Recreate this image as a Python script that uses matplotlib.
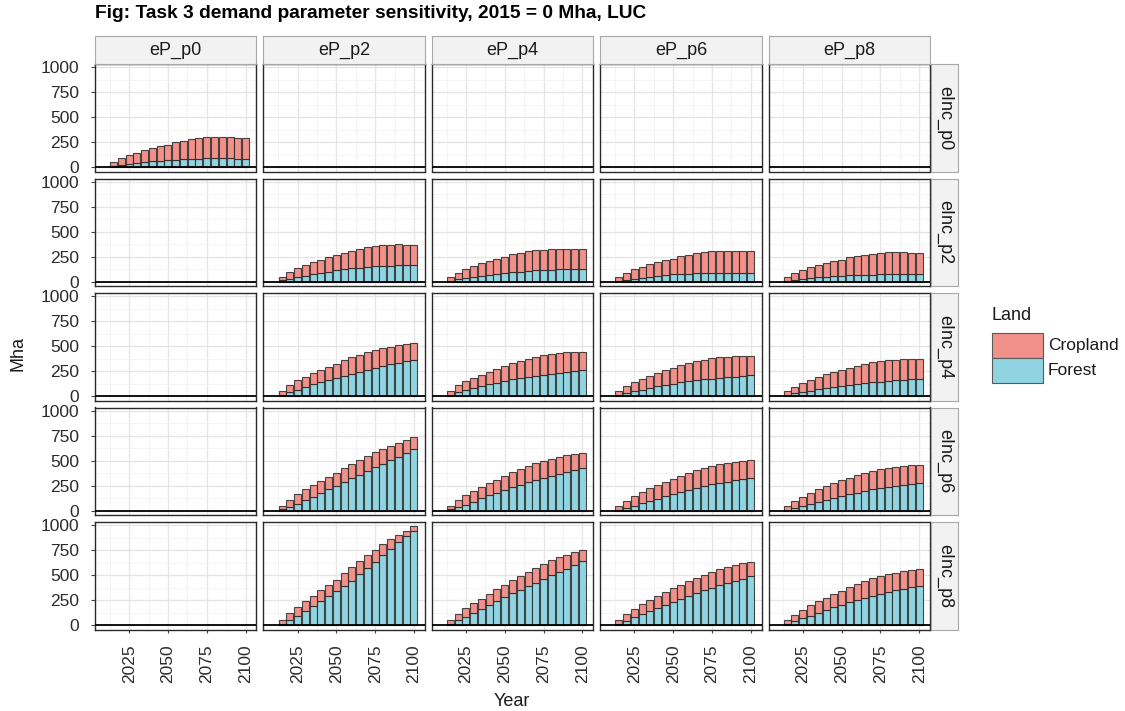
import matplotlib
matplotlib.use("Agg")
import matplotlib.pyplot as plt
from matplotlib.patches import Rectangle

plt.rcParams['font.family'] = ['Liberation Sans', 'DejaVu Sans']

# ---------------- data ----------------
years = [2015, 2020, 2025, 2030, 2035, 2040, 2045, 2050, 2055,
         2060, 2065, 2070, 2075, 2080, 2085, 2090, 2095, 2100]
ep_levels = ["eP_p0", "eP_p2", "eP_p4", "eP_p6", "eP_p8"]
einc_levels = ["eInc_p0", "eInc_p2", "eInc_p4", "eInc_p6", "eInc_p8"]
x_ticks = [2025, 2050, 2075, 2100]
y_ticks = [0, 250, 500, 750, 1000]
land_types = ["Cropland", "Forest"]

# eInc_p0
forest_i0_p0 = [10, 20, 34, 44, 50, 57, 64, 70, 74, 77, 81, 84, 87, 87, 87, 87, 84, 84]
crop_i0_p0 = [37, 71, 87, 100, 118, 134, 147, 155, 174, 188, 198, 208, 212, 215, 215, 212, 211, 208]

# eInc_p2
forest_i2_p2 = [13, 30, 44, 60, 74, 91, 101, 114, 124, 134, 141, 148, 154, 158, 161, 164, 168, 171]
crop_i2_p2 = [34, 67, 94, 108, 121, 130, 144, 148, 161, 175, 185, 194, 202, 204, 208, 208, 201, 198]
forest_i2_p4 = [10, 23, 40, 50, 60, 70, 81, 87, 94, 101, 107, 114, 117, 121, 124, 128, 128, 131]
crop_i2_p4 = [37, 67, 91, 108, 125, 141, 147, 161, 178, 184, 195, 198, 202, 205, 205, 201, 201, 195]
forest_i2_p6 = [10, 20, 30, 40, 50, 60, 67, 74, 77, 81, 84, 87, 91, 91, 91, 91, 91, 91]
crop_i2_p6 = [34, 64, 94, 111, 124, 135, 148, 157, 175, 187, 198, 205, 211, 218, 218, 218, 218, 211]
forest_i2_p8 = [7, 17, 27, 37, 44, 50, 57, 60, 64, 67, 70, 70, 74, 74, 74, 74, 74, 74]
crop_i2_p8 = [37, 67, 94, 107, 124, 138, 148, 161, 178, 188, 198, 209, 211, 218, 218, 218, 215, 211]

# eInc_p4
forest_i4_p2 = [13, 37, 64, 91, 117, 140, 161, 181, 205, 225, 245, 265, 285, 302, 319, 336, 352, 362]
crop_i4_p2 = [37, 74, 94, 104, 115, 122, 134, 145, 154, 164, 171, 175, 175, 175, 174, 171, 168, 168]
forest_i4_p4 = [13, 37, 57, 77, 101, 117, 134, 151, 171, 185, 195, 205, 215, 225, 235, 245, 252, 258]
crop_i4_p4 = [37, 70, 94, 104, 114, 128, 141, 151, 161, 171, 181, 191, 194, 198, 198, 195, 191, 188]
forest_i4_p6 = [10, 30, 47, 64, 81, 97, 111, 124, 138, 148, 158, 168, 174, 181, 188, 195, 201, 208]
crop_i4_p6 = [37, 71, 94, 110, 124, 135, 147, 158, 171, 181, 191, 198, 205, 208, 208, 204, 198, 191]
forest_i4_p8 = [10, 27, 40, 54, 67, 81, 94, 104, 114, 124, 131, 138, 144, 151, 158, 161, 168, 171]
crop_i4_p8 = [37, 67, 91, 107, 124, 137, 148, 161, 171, 181, 191, 201, 205, 208, 208, 211, 204, 201]

# eInc_p6
forest_i6_p2 = [13, 37, 70, 104, 141, 181, 215, 248, 282, 322, 359, 399, 433, 470, 503, 540, 580, 617]
crop_i6_p2 = [37, 70, 94, 111, 117, 118, 121, 131, 144, 144, 148, 148, 151, 147, 148, 141, 131, 121]
forest_i6_p4 = [13, 34, 60, 91, 124, 154, 181, 208, 235, 258, 282, 309, 329, 349, 369, 386, 406, 426]
crop_i6_p4 = [34, 70, 94, 107, 114, 121, 128, 134, 148, 158, 168, 168, 171, 171, 171, 171, 164, 155]
forest_i6_p6 = [10, 27, 50, 74, 97, 121, 144, 168, 188, 208, 228, 245, 262, 275, 289, 302, 315, 326]
crop_i6_p6 = [37, 74, 98, 114, 128, 137, 145, 151, 161, 168, 175, 181, 184, 188, 188, 185, 182, 177]
forest_i6_p8 = [10, 24, 47, 70, 91, 111, 131, 148, 165, 181, 195, 212, 222, 235, 245, 255, 265, 272]
crop_i6_p8 = [34, 73, 94, 108, 124, 137, 148, 154, 164, 171, 181, 184, 191, 191, 191, 191, 188, 184]

# eInc_p8
forest_i8_p2 = [13, 50, 94, 141, 188, 238, 289, 342, 392, 446, 510, 574, 634, 701, 762, 829, 889, 943]
crop_i8_p2 = [37, 67, 87, 97, 104, 111, 117, 114, 125, 131, 131, 127, 121, 111, 97, 77, 57, 44]
forest_i8_p4 = [13, 47, 84, 117, 158, 198, 238, 279, 319, 356, 389, 426, 460, 497, 530, 564, 601, 644]
crop_i8_p4 = [37, 64, 84, 101, 107, 117, 124, 124, 131, 137, 141, 144, 151, 151, 148, 141, 131, 111]
forest_i8_p6 = [10, 44, 77, 107, 141, 175, 205, 235, 265, 295, 322, 349, 376, 399, 419, 443, 466, 490]
crop_i8_p6 = [40, 63, 84, 101, 111, 120, 127, 134, 141, 148, 151, 154, 154, 158, 158, 158, 151, 141]
forest_i8_p8 = [10, 37, 67, 94, 124, 151, 178, 205, 228, 252, 275, 295, 315, 336, 352, 366, 379, 393]
crop_i8_p8 = [40, 67, 87, 104, 114, 124, 134, 141, 155, 161, 165, 172, 172, 171, 171, 171, 168, 164]

panels = {
    (0, 0): (forest_i0_p0, crop_i0_p0),
    (1, 1): (forest_i2_p2, crop_i2_p2), (1, 2): (forest_i2_p4, crop_i2_p4),
    (1, 3): (forest_i2_p6, crop_i2_p6), (1, 4): (forest_i2_p8, crop_i2_p8),
    (2, 1): (forest_i4_p2, crop_i4_p2), (2, 2): (forest_i4_p4, crop_i4_p4),
    (2, 3): (forest_i4_p6, crop_i4_p6), (2, 4): (forest_i4_p8, crop_i4_p8),
    (3, 1): (forest_i6_p2, crop_i6_p2), (3, 2): (forest_i6_p4, crop_i6_p4),
    (3, 3): (forest_i6_p6, crop_i6_p6), (3, 4): (forest_i6_p8, crop_i6_p8),
    (4, 1): (forest_i8_p2, crop_i8_p2), (4, 2): (forest_i8_p4, crop_i8_p4),
    (4, 3): (forest_i8_p6, crop_i8_p6), (4, 4): (forest_i8_p8, crop_i8_p8),
}

# ---------------- style ----------------
crop_col = "#F0918A"
forest_col = "#90D4E2"
edge_col = (0.12, 0.12, 0.12, 0.8)
txt_col = "#1A1A1A"
tick_txt = "#2B2B2B"

W, H = 1125, 711
fig = plt.figure(figsize=(W / 100, H / 100), dpi=100)


def fx(px):
    return px / W


def fy(py):
    return 1 - py / H


pw, ph = 161.4, 107.5
px0, py0 = 95.0, 64.0
pitch_x, pitch_y = 168.4, 114.5
strip_h, strip_w = 28.0, 27.0

for r in range(5):
    for c in range(5):
        left = px0 + c * pitch_x
        top = py0 + r * pitch_y
        ax = fig.add_axes([fx(left), fy(top + ph), pw / W, ph / H])
        ax.set_xlim(2003, 2107)
        ax.set_ylim(-44, 1032)
        ax.set_xticks(x_ticks)
        ax.set_xticks([2012.5, 2037.5, 2062.5, 2087.5], minor=True)
        ax.set_yticks(y_ticks)
        ax.set_yticks([125, 375, 625, 875], minor=True)
        ax.grid(which="major", color="#E6E6E6", lw=1.0)
        ax.grid(which="minor", color="#F2F2F2", lw=0.6)
        ax.set_axisbelow(True)
        for s in ax.spines.values():
            s.set_color("#2A2A2A")
            s.set_linewidth(1.0)
        ax.tick_params(which="minor", length=0)
        ax.tick_params(axis="y", which="major", length=3.0, width=0.8,
                       color="#444444", pad=8.5, labelsize=12.5, labelcolor=tick_txt)
        ax.tick_params(axis="x", which="major", length=2.5, width=0.8,
                       color="#444444", pad=8.0, labelsize=12.5, labelcolor=tick_txt,
                       labelrotation=90)
        if c != 0:
            ax.tick_params(axis="y", which="major", length=0, labelleft=False)
        if r != 4:
            ax.tick_params(axis="x", which="major", length=0, labelbottom=False)

        if (r, c) in panels:
            forest, crop = panels[(r, c)]
            ax.bar(years, forest, width=4.5, color=forest_col,
                   edgecolor=edge_col, linewidth=0.8, zorder=2)
            ax.bar(years, crop, width=4.5, bottom=forest, color=crop_col,
                   edgecolor=edge_col, linewidth=0.8, zorder=2)
        ax.axhline(0, color="black", lw=1.3, zorder=3)

        # strips
        if r == 0:
            sax = fig.add_axes([fx(left), fy(top), pw / W, strip_h / H])
            sax.set_xticks([]); sax.set_yticks([])
            sax.set_facecolor("#F2F2F2")
            for s in sax.spines.values():
                s.set_color("#A8A8A8"); s.set_linewidth(0.8)
            sax.text(0.5, 0.5, ep_levels[c], ha="center", va="center",
                     fontsize=13, color=txt_col, transform=sax.transAxes)
        if c == 4:
            sax = fig.add_axes([fx(left + pw + 1), fy(top + ph), strip_w / W, ph / H])
            sax.set_xticks([]); sax.set_yticks([])
            sax.set_facecolor("#F2F2F2")
            for s in sax.spines.values():
                s.set_color("#A8A8A8"); s.set_linewidth(0.8)
            sax.text(0.5, 0.5, einc_levels[r], ha="center", va="center",
                     rotation=-90, fontsize=13, color=txt_col, transform=sax.transAxes)

# title and axis labels
fig.text(fx(95), fy(14), "Fig: Task 3 demand parameter sensitivity, 2015 = 0 Mha, LUC",
         fontsize=13.8, fontweight="bold", ha="left", va="center", color="black")
fig.text(fx(512), fy(701), "Year", fontsize=13, ha="center", va="center", color=txt_col)
fig.text(fx(18), fy(353), "Mha", fontsize=13, ha="center", va="center",
         rotation=90, color=txt_col)

# legend
fig.text(fx(991), fy(316), "Land", fontsize=13, ha="left", va="center", color=txt_col)
legend_cols = [crop_col, forest_col]
for i, (lab, col) in enumerate(zip(land_types, legend_cols)):
    ktop = 333 + i * 25
    fig.add_artist(Rectangle((fx(992), fy(ktop + 24.5)), 51 / W, 24.5 / H,
                             facecolor=col, edgecolor="#5A5A5A", lw=0.8,
                             transform=fig.transFigure))
    fig.text(fx(1048), fy(ktop + 12.5), lab, fontsize=12.5, ha="left",
             va="center", color=txt_col)

fig.savefig("out.png", dpi=100)
